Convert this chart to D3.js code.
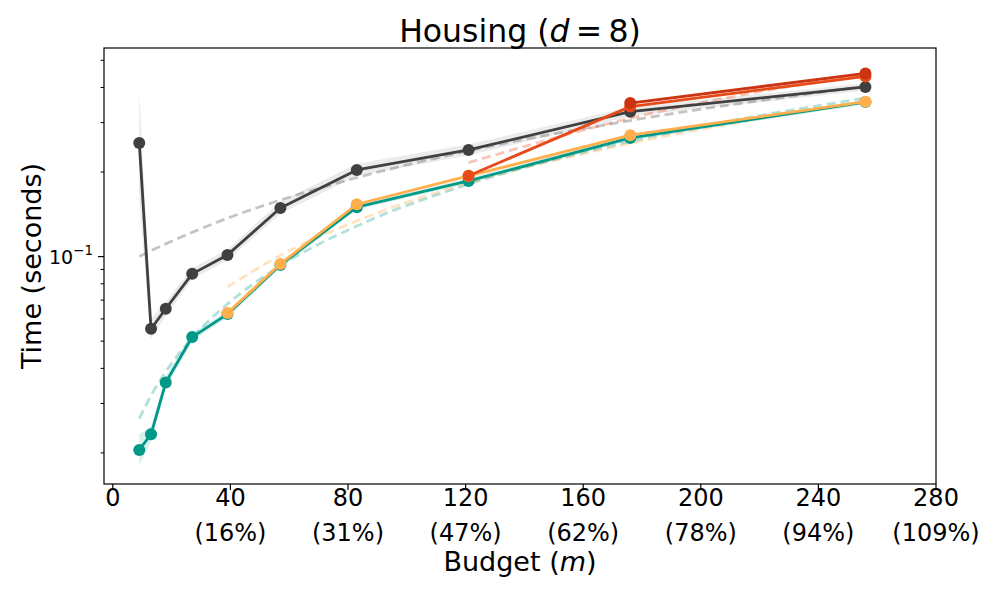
<!DOCTYPE html>
<html lang="en">
<head>
    <meta charset="UTF-8">
    <title>Housing (d = 8)</title>
    <script src="https://d3js.org/d3.v7.min.js"></script>
    <style>
        body { margin: 0; background: white; font-family: "DejaVu Sans", sans-serif; }
        .tick-label { font-size: 24px; fill: black; }
        .axis-label { font-size: 27px; fill: black; }
    </style>
</head>
<body>
    <svg id="chart" width="996" height="598"></svg>

    <script>
        // budgets m (out of 256 rows)
        const budgets = [9, 13, 18, 27, 39, 57, 83, 121, 176, 256];

        // dark grey series
        const grayTime = [0.254, 0.0553, 0.0652, 0.0868, 0.1014, 0.149, 0.2035, 0.2398, 0.328, 0.402];
        const grayLo   = [0.16, 0.051, 0.0615, 0.083, 0.097, 0.142, 0.194, 0.229, 0.316, 0.390];
        const grayHi   = [0.39, 0.060, 0.069, 0.091, 0.106, 0.157, 0.214, 0.251, 0.341, 0.414];
        const grayFit  = [0.100, 0.105, 0.111, 0.122, 0.137, 0.159, 0.191, 0.238, 0.305, 0.404];

        // teal series
        const tealTime = [0.0205, 0.0233, 0.0356, 0.0517, 0.0624, 0.0934, 0.150, 0.186, 0.2645, 0.355];
        const tealLo   = [0.0180, 0.0220, 0.0340, 0.0500, 0.0608, 0.0912, 0.147, 0.182, 0.259, 0.349];
        const tealHi   = [0.0234, 0.0248, 0.0374, 0.0535, 0.0642, 0.0957, 0.153, 0.190, 0.270, 0.361];
        const tealFit  = [0.0265, 0.0320, 0.0389, 0.0513, 0.0678, 0.0927, 0.1285, 0.181, 0.257, 0.367];

        // orange series
        const orangeTime = [null, null, null, null, 0.0630, 0.0942, 0.1536, 0.1937, 0.2706, 0.356];
        const orangeFit  = [null, null, null, null, 0.078, 0.101, 0.134, 0.183, 0.253, 0.356];

        // red series
        const redTime = [null, null, null, null, null, null, null, 0.194, 0.342, 0.438];
        const redFit  = [null, null, null, null, null, null, null, 0.216, 0.311, 0.447];

        // dark red series
        const darkRedTime = [null, null, null, null, null, null, null, null, 0.352, 0.449];

        // axis ticks
        const xTicks = [0, 40, 80, 120, 160, 200, 240, 280];
        const xTickPct = ["", "(16%)", "(31%)", "(47%)", "(62%)", "(78%)", "(94%)", "(109%)"];
        const yMajorTicks = [0.1];
        const yMinorTicks = [0.02, 0.03, 0.04, 0.05, 0.06, 0.07, 0.08, 0.09, 0.2, 0.3, 0.4, 0.5];

        const svg = d3.select("#chart");
        const plot = { left: 104, right: 936, top: 48, bottom: 484 };

        const x = d3.scaleLinear().domain([-3, 280]).range([plot.left, plot.right]);
        const y = d3.scaleLog().domain([0.0155, 0.553]).range([plot.bottom, plot.top]);

        svg.append("clipPath").attr("id", "clip")
            .append("rect")
            .attr("x", plot.left).attr("y", plot.top)
            .attr("width", plot.right - plot.left).attr("height", plot.bottom - plot.top);

        const g = svg.append("g").attr("clip-path", "url(#clip)");

        function rows(vals) {
            return budgets.map((m, i) => ({ m: m, v: vals[i] })).filter(d => d.v !== null);
        }

        // shaded bands
        function band(lo, hi, color, op) {
            const data = budgets.map((m, i) => ({ m: m, lo: lo[i], hi: hi[i] }));
            g.append("path")
                .datum(data)
                .attr("fill", color)
                .attr("opacity", op)
                .attr("d", d3.area().x(d => x(d.m)).y0(d => y(d.lo)).y1(d => y(d.hi)));
        }
        band(grayLo, grayHi, "#999999", 0.2);
        band(tealLo, tealHi, "#009988", 0.15);

        // dashed fits
        function fit(vals, color, op) {
            g.append("path")
                .datum(rows(vals))
                .attr("fill", "none")
                .attr("stroke", color)
                .attr("stroke-opacity", op)
                .attr("stroke-width", 2.8)
                .attr("stroke-dasharray", "9,5")
                .attr("d", d3.line().x(d => x(d.m)).y(d => y(d.v)).curve(d3.curveMonotoneX));
        }
        fit(grayFit, "#404040", 0.3);
        fit(tealFit, "#009988", 0.3);
        fit(orangeFit, "#FFB04D", 0.35);
        fit(redFit, "#E64A19", 0.3);

        // solid series with markers
        function series(vals, color) {
            const data = rows(vals);
            g.append("path")
                .datum(data)
                .attr("fill", "none")
                .attr("stroke", color)
                .attr("stroke-width", 2.8)
                .attr("stroke-linejoin", "round")
                .attr("d", d3.line().x(d => x(d.m)).y(d => y(d.v)));
            g.selectAll(null)
                .data(data)
                .enter()
                .append("circle")
                .attr("cx", d => x(d.m))
                .attr("cy", d => y(d.v))
                .attr("r", 6)
                .attr("fill", color);
        }
        series(grayTime, "#404040");
        series(tealTime, "#009988");
        series(orangeTime, "#FFB04D");
        series(redTime, "#E64A19");
        series(darkRedTime, "#CC3311");

        // frame
        svg.append("rect")
            .attr("x", plot.left).attr("y", plot.top)
            .attr("width", plot.right - plot.left).attr("height", plot.bottom - plot.top)
            .attr("fill", "none")
            .attr("stroke", "black")
            .attr("stroke-width", 1.2);

        // x axis
        const xAxis = svg.append("g");
        xTicks.forEach((t, i) => {
            xAxis.append("line")
                .attr("x1", x(t)).attr("x2", x(t))
                .attr("y1", plot.bottom).attr("y2", plot.bottom + 6)
                .attr("stroke", "black").attr("stroke-width", 1.2);
            xAxis.append("text")
                .attr("class", "tick-label")
                .attr("x", x(t)).attr("y", 506)
                .attr("text-anchor", "middle")
                .text(t);
            xAxis.append("text")
                .attr("class", "tick-label")
                .attr("x", x(t)).attr("y", 541)
                .attr("text-anchor", "middle")
                .text(xTickPct[i]);
        });

        // y axis
        const yAxis = svg.append("g");
        yMinorTicks.forEach(t => {
            yAxis.append("line")
                .attr("x1", plot.left - 3.5).attr("x2", plot.left)
                .attr("y1", y(t)).attr("y2", y(t))
                .attr("stroke", "black").attr("stroke-width", 1);
        });
        yMajorTicks.forEach(t => {
            yAxis.append("line")
                .attr("x1", plot.left - 6).attr("x2", plot.left)
                .attr("y1", y(t)).attr("y2", y(t))
                .attr("stroke", "black").attr("stroke-width", 1.2);
            const lab = yAxis.append("text")
                .attr("x", plot.left - 11).attr("y", y(t) + 7)
                .attr("text-anchor", "end")
                .style("font-size", "19px");
            lab.append("tspan").text("10");
            lab.append("tspan").attr("dy", -9).style("font-size", "13.5px").text("\u22121");
        });

        // labels
        svg.append("text")
            .attr("x", (plot.left + plot.right) / 2).attr("y", 42)
            .attr("text-anchor", "middle")
            .style("font-size", "31.5px")
            .html('Housing (<tspan font-style="italic">d</tspan>\u2009=\u20098)');

        svg.append("text")
            .attr("class", "axis-label")
            .attr("x", (plot.left + plot.right) / 2).attr("y", 571)
            .attr("text-anchor", "middle")
            .html('Budget (<tspan font-style="italic">m</tspan>)');

        svg.append("text")
            .attr("class", "axis-label")
            .attr("transform", "translate(41,266) rotate(-90)")
            .attr("text-anchor", "middle")
            .text("Time (seconds)");
    </script>
</body>
</html>
